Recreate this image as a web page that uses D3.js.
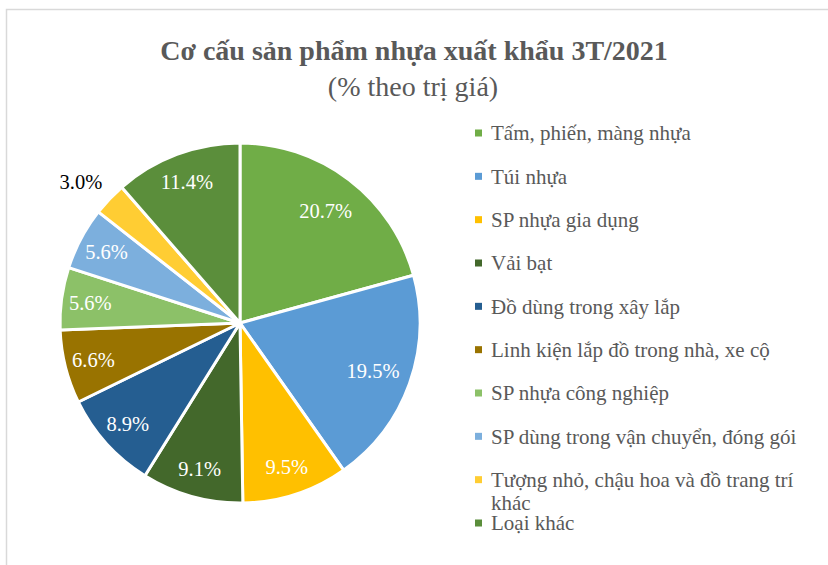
<!DOCTYPE html>
<html><head><meta charset="utf-8">
<script src="https://cdn.jsdelivr.net/npm/d3@7"></script>
<style>
html,body{margin:0;padding:0;background:#fff;}
svg{display:block;}
</style></head>
<body>
<svg id="chart" width="828" height="565"></svg>
<script>
const titleText = "Cơ cấu sản phẩm nhựa xuất khẩu 3T/2021";
const subtitleText = "(% theo trị giá)";
const categories = [
  "Tấm, phiến, màng nhựa",
  "Túi nhựa",
  "SP nhựa gia dụng",
  "Vải bạt",
  "Đồ dùng trong xây lắp",
  "Linh kiện lắp đồ trong nhà, xe cộ",
  "SP nhựa công nghiệp",
  "SP dùng trong vận chuyển, đóng gói",
  "Tượng nhỏ, chậu hoa và đồ trang trí khác",
  "Loại khác"
];
const values = [20.7, 19.5, 9.5, 9.1, 8.9, 6.6, 5.6, 5.6, 3.0, 11.4];
const colors = ["#70AD47","#5B9BD5","#FFC000","#43682B","#255E91","#997300","#8CC168","#7CAFDD","#FFCD33","#5B8E3B"];

const svg = d3.select("#chart");
const font = "'Liberation Serif','Times New Roman',serif";

// chart frame
svg.append("rect").attr("x",6.5).attr("y",9.5).attr("width",900).attr("height",700)
  .attr("fill","#fff").attr("stroke","#D9D9D9").attr("stroke-width",1.5);

// titles
svg.append("text").attr("x",414).attr("y",60).attr("text-anchor","middle")
  .attr("font-family",font).attr("font-weight","bold").attr("font-size",28)
  .attr("fill","#595959").text(titleText);
svg.append("text").attr("x",413).attr("y",96).attr("text-anchor","middle")
  .attr("font-family",font).attr("font-size",28)
  .attr("fill","#595959").text(subtitleText);

// pie
const cx = 240, cy = 323, R = 180;
const pie = d3.pie().sort(null).value(d => d);
const arcs = pie(values);
const arc = d3.arc().innerRadius(0).outerRadius(R);
const g = svg.append("g").attr("transform",`translate(${cx},${cy})`);
g.selectAll("path").data(arcs).enter().append("path")
  .attr("d",arc).attr("fill",(d,i)=>colors[i])
  .attr("stroke","#fff").attr("stroke-width",3).attr("stroke-linejoin","round");

const fmt = d3.format(".1f");
g.selectAll("text.lbl").data(arcs).enter().append("text").attr("class","lbl")
  .each(function(d){
    const share = d.value/d3.sum(values);
    let rr = share > 0.15 ? 0.785*R : (share < 0.04 ? 1.18*R : 0.84*R);
    let a = (d.startAngle+d.endAngle)/2;
    if (share < 0.04) a -= 0.035;
    d3.select(this).attr("x", Math.sin(a)*rr).attr("y", -Math.cos(a)*rr)
      .attr("fill", share < 0.04 ? "#000" : "#fff");
  })
  .attr("text-anchor","middle").attr("dy","0.35em")
  .attr("font-family",font).attr("font-size",20.5)
  .text(d => fmt(d.value) + "%");

// legend
const ly = d3.scaleLinear().domain([0, categories.length-1]).range([133, 523]);
const lg = svg.append("g");
const items = lg.selectAll("g").data(categories).enter().append("g")
  .attr("transform",(d,i)=>`translate(0,${ly(i)})`);
items.append("rect").attr("x",475).attr("y",-3.5).attr("width",7).attr("height",7)
  .attr("fill",(d,i)=>colors[i]);
items.append("text").attr("x",491).attr("dy","0.35em")
  .attr("font-family",font).attr("font-size",21).attr("fill","#595959")
  .each(function(d){
    const t = d3.select(this);
    if (d.startsWith("Tượng")) {
      t.append("tspan").attr("x",491).text("Tượng nhỏ, chậu hoa và đồ trang trí");
      t.append("tspan").attr("x",491).attr("dy","1.1em").text("khác");
    } else t.text(d);
  });
</script>
</body></html>
